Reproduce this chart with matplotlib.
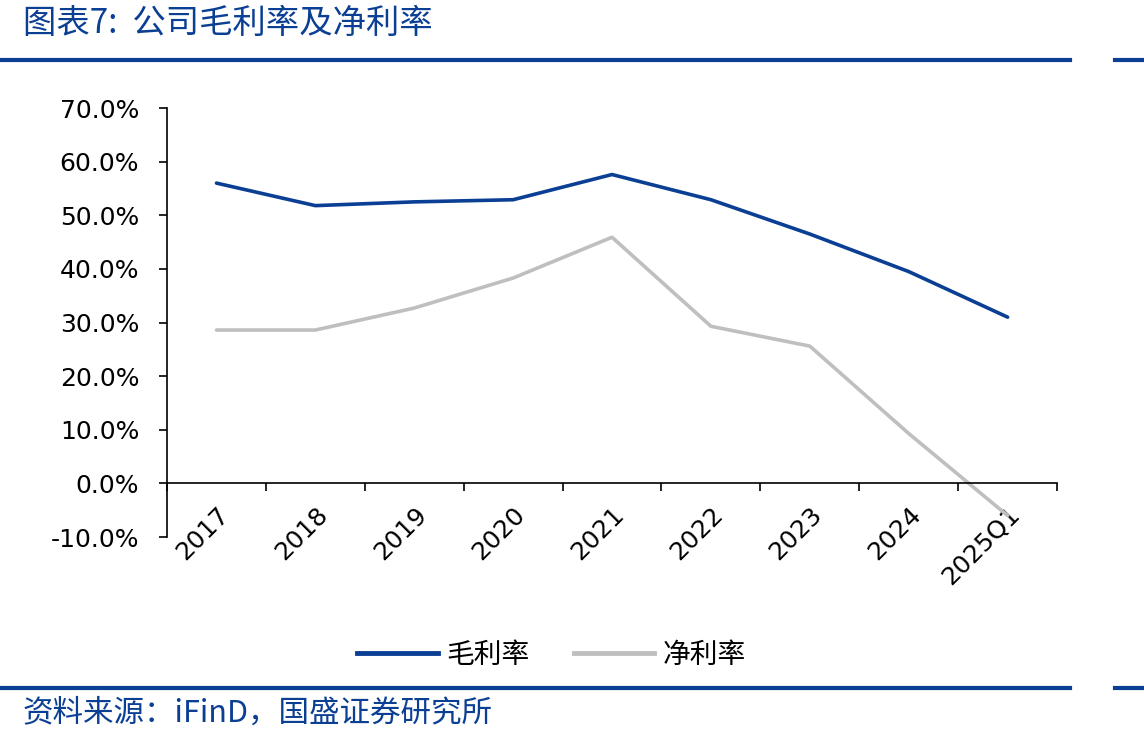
import matplotlib.pyplot as plt
from matplotlib.lines import Line2D
from matplotlib.ticker import FuncFormatter

plt.rcParams['font.family'] = ['DejaVu Sans', 'Noto Sans CJK SC']

categories = ['2017', '2018', '2019', '2020', '2021', '2022', '2023', '2024', '2025Q1']
gross_margin = [56.0, 51.8, 52.5, 52.9, 57.6, 52.9, 46.5, 39.5, 31.0]
net_margin = [28.6, 28.6, 32.7, 38.3, 45.9, 29.3, 25.6, 9.3, -6.0]

blue = '#0B3F94'
gray = '#BFBFBF'
cjk = ['Noto Sans CJK SC', 'DejaVu Sans']

fig = plt.figure(figsize=(11.44, 7.44), dpi=100)
ax = fig.add_axes([0.146, 0.2782, 0.778, 0.5766])

# spine position first: it resets the ticks
ax.spines['top'].set_visible(False)
ax.spines['right'].set_visible(False)
ax.spines['bottom'].set_position(('data', 0))
ax.spines['left'].set_linewidth(1.2)
ax.spines['bottom'].set_linewidth(1.2)

x = list(range(len(categories)))
ax.plot(x, gross_margin, color=blue, lw=2.6, label='毛利率', solid_capstyle='round')
ax.plot(x, net_margin, color=gray, lw=2.6, label='净利率', solid_capstyle='round')

ax.set_xlim(-0.5, len(categories) - 0.5)
ax.set_ylim(-10, 70)
ax.set_yticks(range(-10, 71, 10))
ax.yaxis.set_major_formatter(FuncFormatter(lambda v, p: f'{v:.1f}%'))
ax.tick_params(axis='y', labelsize=18, direction='out', length=6, width=1.2, pad=14)

# category labels on major ticks, boundary ticks as minor
ax.set_xticks(x)
ax.tick_params(axis='x', which='major', length=0, pad=14)
ax.set_xticklabels(categories, rotation=45, ha='right', va='top',
                   rotation_mode='anchor', fontsize=18)
ax.set_xticks([i - 0.5 for i in range(len(categories) + 1)], minor=True)
ax.tick_params(axis='x', which='minor', direction='out', length=6, width=1.2)

# legend
handles = [Line2D([], [], color=blue, lw=3.5), Line2D([], [], color=gray, lw=3.5)]
fig.legend(handles, ['毛利率', '净利率'], loc='center', bbox_to_anchor=(0.482, 0.12),
           ncol=2, frameon=False, prop={'family': cjk, 'size': 20},
           handlelength=2.9, columnspacing=1.6, handletextpad=0.3)

# header and footer
fig.text(0.02, 0.968, '图表7:  公司毛利率及净利率', color=blue, fontsize=24,
         family=cjk, style='italic', va='center', ha='left')
fig.text(0.02, 0.042, '资料来源：iFinD，国盛证券研究所', color=blue, fontsize=22,
         family=cjk, style='italic', va='center', ha='left')
for yy in (1 - 60 / 744, 1 - 688 / 744):
    fig.add_artist(Line2D([0, 1070 / 1144], [yy, yy], color=blue, lw=3))
    fig.add_artist(Line2D([1115 / 1144, 1], [yy, yy], color=blue, lw=3))

fig.savefig('out.png', dpi=100)
